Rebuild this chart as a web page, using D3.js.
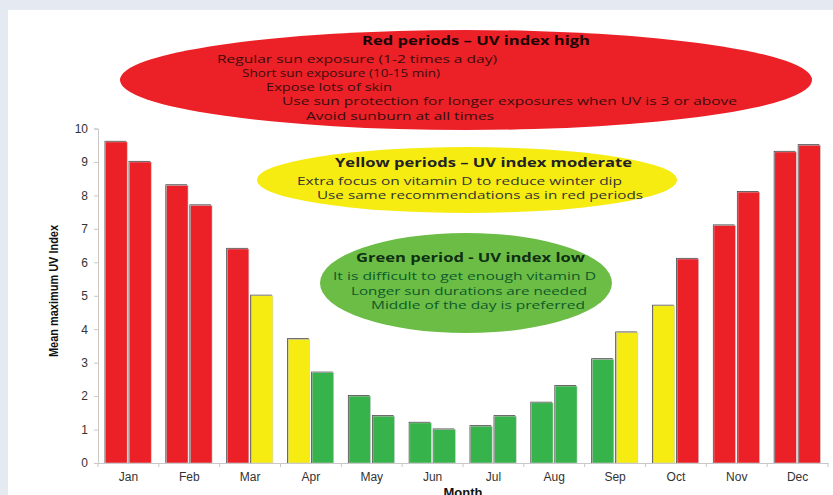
<!DOCTYPE html>
<html>
<head>
<meta charset="utf-8">
<script src="https://cdn.jsdelivr.net/npm/d3@7"></script>
<style>
  html, body { margin: 0; padding: 0; background: #e5eaf2; }
  svg { display: block; }
</style>
</head>
<body>
<div id="chart"></div>
<script>
// Data: two half-month bars per month
const months = ["Jan", "Feb", "Mar", "Apr", "May", "Jun", "Jul", "Aug", "Sep", "Oct", "Nov", "Dec"];
const firstHalf  = [9.6, 8.3, 6.4, 3.7, 2.0, 1.2, 1.1, 1.8, 3.1, 4.7, 7.1, 9.3];
const secondHalf = [9.0, 7.7, 5.0, 2.7, 1.4, 1.0, 1.4, 2.3, 3.9, 6.1, 8.1, 9.5];
// period of each bar: r = high, y = moderate, g = low
const firstPeriod  = ["r", "r", "r", "y", "g", "g", "g", "g", "g", "y", "r", "r"];
const secondPeriod = ["r", "r", "y", "g", "g", "g", "g", "g", "y", "r", "r", "r"];
const yTicks = [0, 1, 2, 3, 4, 5, 6, 7, 8, 9, 10];

const redNotes = ["Regular sun exposure (1-2 times a day)", "Short sun exposure (10-15 min)",
  "Expose lots of skin", "Use sun protection for longer exposures when UV is 3 or above",
  "Avoid sunburn at all times"];
const yellowNotes = ["Extra focus on vitamin D to reduce winter dip", "Use same recommendations as in red periods"];
const greenNotes = ["It is difficult to get enough vitamin D", "Longer sun durations are needed", "Middle of the day is preferred"];

const W = 833, H = 495;
const colors = {r: "#ec2027", y: "#f6ec12", g: "#36b34a"};

const svg = d3.select("#chart").append("svg")
  .attr("width", W).attr("height", H);

// white panel
svg.append("rect").attr("x", 8).attr("y", 10).attr("width", W).attr("height", H)
  .attr("fill", "#fff");

const x0 = d3.scaleBand().domain(months).range([98, 828]).paddingInner(0.25).paddingOuter(0.125);
const x1 = d3.scaleBand().domain([0, 1]).range([0, x0.bandwidth()]).paddingInner(0.1);
const y = d3.scaleLinear().domain([0, 10]).range([463, 128.5]);

const rows = months.flatMap((m, i) => [
  {m, k: 0, v: firstHalf[i], p: firstPeriod[i]},
  {m, k: 1, v: secondHalf[i], p: secondPeriod[i]}
]);

// axes
const yAxis = svg.append("g").attr("transform", `translate(${x0.range()[0]},0)`)
  .call(d3.axisLeft(y).tickValues(yTicks).tickSize(4).tickPadding(6));
yAxis.select(".domain").attr("stroke", "#c8c8c8");
yAxis.selectAll(".tick line").attr("stroke", "#c8c8c8");
yAxis.selectAll(".tick text").attr("font-family", "Liberation Sans, Arial, sans-serif")
  .attr("font-size", 12).attr("fill", "#333");

const xAxis = svg.append("g").attr("transform", `translate(0,${y(0)})`)
  .call(d3.axisBottom(x0).tickSize(0).tickPadding(9).tickSizeOuter(0));
xAxis.select(".domain").attr("stroke", "#c8c8c8");
xAxis.selectAll(".tick text").attr("font-family", "Liberation Sans, Arial, sans-serif")
  .attr("font-size", 12).attr("fill", "#333");
// small ticks on the month boundaries
const edge = d => x0(d) - x0.paddingOuter() * x0.step();
const seps = months.map(edge).concat([x0.range()[1]]);
xAxis.selectAll(".sep").data(seps).join("line")
  .attr("class", "sep")
  .attr("x1", d => d).attr("x2", d => d)
  .attr("y1", 0).attr("y2", 4).attr("stroke", "#c8c8c8");

// bars: dark edge behind, colour on top
const bars = svg.append("g").selectAll("g").data(rows).join("g")
  .attr("transform", d => `translate(${x0(d.m) + x1(d.k)},0)`);
bars.append("rect")
  .attr("x", -1).attr("y", d => y(d.v) - 1)
  .attr("width", x1.bandwidth()).attr("height", d => y(0) - y(d.v) + 1)
  .attr("fill", "#3a3a3a");
bars.append("rect")
  .attr("x", 0).attr("y", d => y(d.v))
  .attr("width", x1.bandwidth()).attr("height", d => y(0) - y(d.v))
  .attr("fill", d => colors[d.p])
  .attr("stroke", "#d0d0d0").attr("stroke-width", 0.6);

// axis titles
svg.append("text")
  .attr("transform", "translate(58,291) rotate(-90)")
  .attr("text-anchor", "middle")
  .attr("font-family", "Liberation Sans, Arial, sans-serif")
  .attr("font-weight", "bold").attr("font-size", 12).attr("fill", "#111")
  .attr("textLength", 132).attr("lengthAdjust", "spacingAndGlyphs")
  .text("Mean maximum UV Index");
svg.append("text")
  .attr("x", 463).attr("y", 497)
  .attr("text-anchor", "middle")
  .attr("font-family", "Liberation Sans, Arial, sans-serif")
  .attr("font-weight", "bold").attr("font-size", 13).attr("fill", "#111")
  .text("Month");

// advice bubbles
const font = "Open Sans, Noto Sans, sans-serif";
function bubble(cx, cy, rx, ry, fill) {
  svg.append("ellipse").attr("cx", cx).attr("cy", cy).attr("rx", rx).attr("ry", ry)
    .attr("fill", fill);
}
function label(txt, xx, yy, opts) {
  svg.append("text").attr("x", xx).attr("y", yy)
    .attr("font-family", font)
    .attr("font-size", opts.size)
    .attr("font-weight", opts.bold ? "bold" : "normal")
    .attr("fill", opts.color)
    .attr("textLength", opts.len).attr("lengthAdjust", "spacingAndGlyphs")
    .text(txt);
}

bubble(466, 80, 346, 50, colors.r);
bubble(467, 180, 210, 33, colors.y);
bubble(466, 283, 146, 50, "#6cbd45");

label("Red periods \u2013 UV index high", 362, 45, {size: 12.5, bold: true, color: "#1a0505", len: 228});
const redX = [217, 242, 266, 282, 306];
const redLen = [280, 198, 126, 455, 188];
redNotes.forEach((t, i) => label(t, redX[i], 62.5 + i * 14.3, {size: 11, color: "#3b0c0c", len: redLen[i]}));

label("Yellow periods \u2013 UV index moderate", 335, 167, {size: 12.5, bold: true, color: "#222", len: 297});
const yelX = [297, 317], yelLen = [325, 326];
yellowNotes.forEach((t, i) => label(t, yelX[i], 185 + i * 13.5, {size: 11.5, color: "#333", len: yelLen[i]}));

label("Green period - UV index low", 356, 262, {size: 12.5, bold: true, color: "#0f2f12", len: 229});
const grnX = [333, 351, 371], grnLen = [263, 236, 214];
greenNotes.forEach((t, i) => label(t, grnX[i], 280 + i * 14.5, {size: 11, color: "#0d5a2a", len: grnLen[i]}));
</script>
</body>
</html>
